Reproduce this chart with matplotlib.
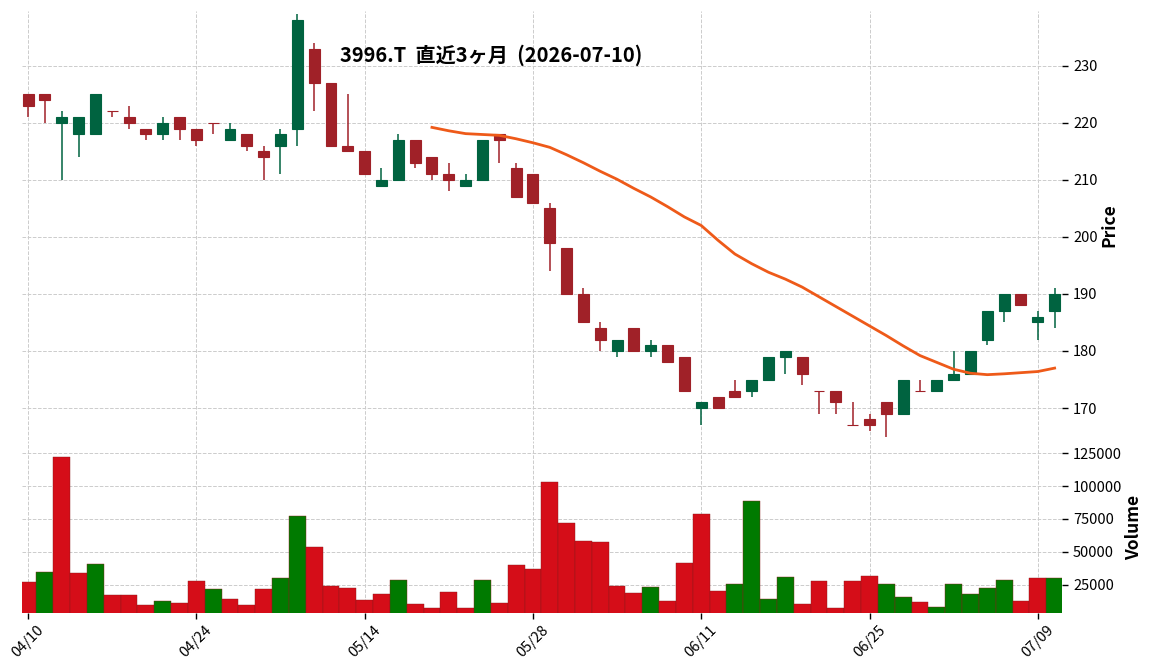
import matplotlib
matplotlib.use("Agg")
import matplotlib.pyplot as plt
import numpy as np

plt.rcParams['font.family'] = ['Noto Sans CJK JP', 'DejaVu Sans']

# trading days (JP calendar) 2026-04-10 .. 2026-07-10
dates = ['04/10', '04/13', '04/14', '04/15', '04/16', '04/17', '04/20', '04/21', '04/22', '04/23',
         '04/24', '04/27', '04/28', '04/30', '05/01', '05/07', '05/08', '05/11', '05/12', '05/13',
         '05/14', '05/15', '05/18', '05/19', '05/20', '05/21', '05/22', '05/25', '05/26', '05/27',
         '05/28', '05/29', '06/01', '06/02', '06/03', '06/04', '06/05', '06/08', '06/09', '06/10',
         '06/11', '06/12', '06/15', '06/16', '06/17', '06/18', '06/19', '06/22', '06/23', '06/24',
         '06/25', '06/26', '06/29', '06/30', '07/01', '07/02', '07/03', '07/06', '07/07', '07/08',
         '07/09', '07/10']

opens = [225, 225, 220, 218, 218, 222, 221, 219, 218, 221,
         219, 220, 217, 218, 215, 216, 219, 233, 227, 216,
         215, 209, 210, 217, 214, 211, 209, 210, 218, 212,
         211, 205, 198, 190, 184, 180, 184, 180, 181, 179,
         170, 172, 173, 173, 175, 179, 179, 173, 173, 167,
         168, 171, 169, 173, 173, 175, 176, 182, 187, 190,
         185, 187]
highs = [225, 225, 222, 221, 225, 222, 223, 219, 221, 221,
         219, 220, 220, 218, 216, 219, 239, 234, 227, 225,
         215, 212, 218, 217, 214, 213, 211, 217, 218, 213,
         211, 206, 198, 191, 185, 182, 184, 182, 181, 179,
         171, 172, 175, 175, 179, 180, 179, 173, 173, 171,
         169, 171, 175, 175, 175, 180, 180, 187, 190, 190,
         187, 191]
lows = [221, 220, 210, 214, 218, 221, 219, 217, 217, 217,
        216, 218, 217, 215, 210, 211, 216, 222, 216, 215,
        211, 209, 210, 212, 210, 208, 209, 210, 213, 207,
        206, 194, 190, 185, 180, 179, 180, 179, 178, 173,
        167, 170, 172, 172, 175, 176, 174, 169, 169, 167,
        166, 165, 169, 173, 173, 175, 176, 181, 185, 188,
        182, 184]
closes = [223, 224, 221, 221, 225, 222, 220, 218, 220, 219,
          217, 220, 219, 216, 214, 218, 238, 227, 216, 215,
          211, 210, 217, 213, 211, 210, 210, 217, 217, 207,
          206, 199, 190, 185, 182, 182, 180, 181, 178, 173,
          171, 170, 172, 175, 179, 180, 176, 173, 171, 167,
          167, 169, 175, 173, 175, 176, 180, 187, 190, 188,
          186, 190]
volumes = [26800, 34400, 122100, 33600, 40500, 16900, 16900, 9200, 12300, 10800,
           27500, 21400, 13800, 9200, 21400, 29800, 77100, 53500, 23700, 22200,
           13000, 17600, 28300, 10000, 6950, 19150, 6950, 28300, 10800, 39750,
           36700, 103100, 71800, 58100, 57300, 23700, 18400, 23000, 12300, 41300,
           78700, 19900, 25300, 88600, 13800, 30600, 10000, 27500, 6950, 27500,
           31400, 25300, 15300, 11500, 7700, 25300, 17600, 22200, 28300, 12300,
           29800, 29800]

# 25-day moving average, starts at day index 24
ma_start = 24
ma25 = [219.2, 218.6, 218.1, 217.95, 217.8, 217.2, 216.5, 215.7, 214.4, 213.0,
        211.5, 210.1, 208.5, 207.0, 205.3, 203.5, 202.0, 199.4, 197.0, 195.3,
        193.8, 192.6, 191.2, 189.5, 187.8, 186.1, 184.4, 182.7, 180.9, 179.2,
        178.0, 176.8, 176.1, 175.85, 176.0, 176.2, 176.4, 177.0]

title = '3996.T  直近3ヶ月  (2026-07-10)'
tick_idx = [0, 10, 20, 30, 40, 50, 60]

up_c, down_c = '#006340', '#a02128'
vup_c, vdown_c = '#007a00', '#d50d18'
grid_kw = dict(color='#cccccc', linestyle='--', linewidth=0.7)

fig = plt.figure(figsize=(11.52, 6.70), dpi=100)
ax = fig.add_axes([0.0191, 0.3433, 0.9028, 0.6403])
axv = fig.add_axes([0.0191, 0.0851, 0.9028, 0.2567], sharex=ax)

o = np.array(opens, float)
h = np.array(highs, float)
l = np.array(lows, float)
c = np.array(closes, float)
x = np.arange(len(dates))

ccol = [up_c if cc > oo else down_c for oo, cc in zip(o, c)]
ax.vlines(x, l, h, colors=ccol, linewidth=1.1, zorder=2)
body_lo = np.minimum(o, c)
body_h = np.abs(c - o)
ax.bar(x, body_h, width=0.65, bottom=body_lo, color=ccol, edgecolor=ccol,
       linewidth=0.8, zorder=3)

ma_x = np.arange(ma_start, ma_start + len(ma25))
ax.plot(ma_x, ma25, color='#ee5a19', linewidth=2.0, zorder=4)

vcol = [vdown_c] + [vup_c if c[i] > c[i - 1] else vdown_c for i in range(1, len(c))]
axv.bar(x, volumes, width=1.0, color=vcol, edgecolor='#8a1a1a', linewidth=0.3, zorder=3)

for a in (ax, axv):
    for s in a.spines.values():
        s.set_visible(False)
    a.yaxis.tick_right()
    a.yaxis.set_label_position('right')
    a.grid(True, **grid_kw)
    a.set_axisbelow(True)
    a.tick_params(axis='y', length=4, width=1, pad=4, labelsize=10.5, colors='black')

ax.set_xlim(-0.36, 61.44)
ax.set_ylim(164.4, 239.6)
ax.set_yticks([170, 180, 190, 200, 210, 220, 230])
ax.set_ylabel('Price', fontsize=12.5, fontweight='bold', labelpad=2)
ax.tick_params(axis='x', length=0, labelbottom=False)

axv.set_ylim(3400, 134300)
axv.set_yticks([25000, 50000, 75000, 100000, 125000])
axv.set_yticklabels([str(v) for v in [25000, 50000, 75000, 100000, 125000]])
axv.set_ylabel('Volume', fontsize=12.5, fontweight='bold', labelpad=2)
axv.set_xticks(tick_idx)
axv.set_xticklabels([dates[i] for i in tick_idx], rotation=45, fontsize=10.5)
axv.tick_params(axis='x', length=4, width=1, pad=3)

fig.text(0.426, 0.918, title, ha='center', va='center', fontsize=14.5, fontweight='bold')

fig.savefig('out.png', dpi=100)
